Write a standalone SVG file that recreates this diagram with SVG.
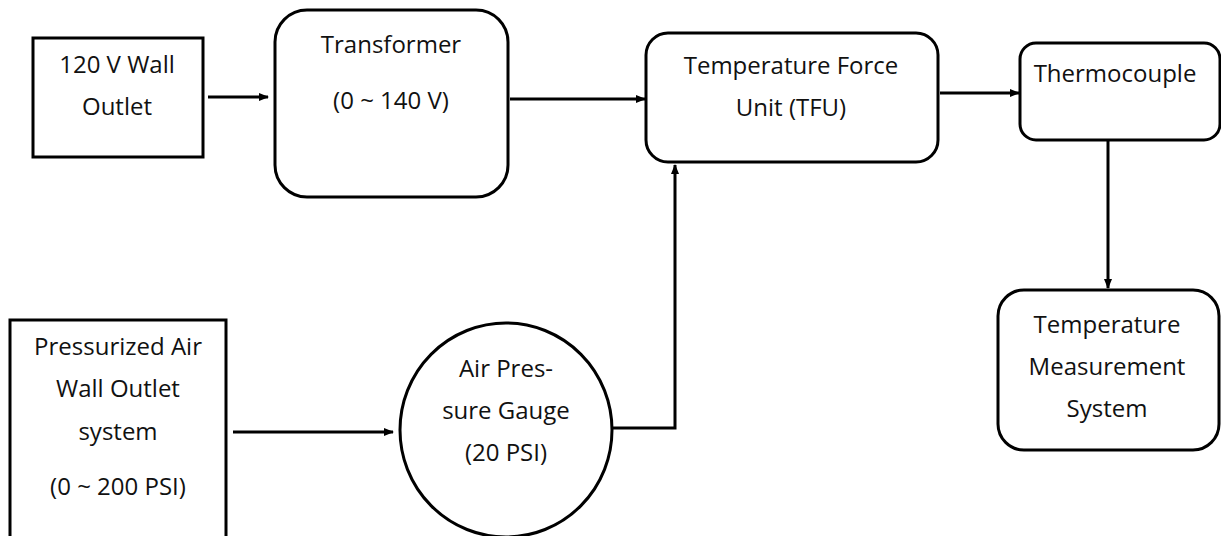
<svg xmlns="http://www.w3.org/2000/svg" width="1221" height="536" viewBox="0 0 1221 536">
<defs>
<marker id="ah" markerWidth="10" markerHeight="8" refX="9" refY="4" orient="auto" markerUnits="userSpaceOnUse">
<path d="M0,0 L10,4 L0,8 Z" fill="#000"/>
</marker>
<style>
.n{fill:#fff;stroke:#000;stroke-width:3}
.t{font-family:"Open Sans","Liberation Sans",sans-serif;font-size:24px;fill:#111;text-anchor:middle}
.c{fill:none;stroke:#000;stroke-width:3}
</style>
</defs>
<rect width="1221" height="536" fill="#fff"/>
<g id="wall-outlet">
<rect class="n" x="33" y="38" width="170" height="119"/>
<text class="t" x="117" y="73">120 V Wall</text>
<text class="t" x="117" y="115">Outlet</text>
</g>
<g id="transformer">
<rect class="n" x="275" y="10" width="233" height="187" rx="32"/>
<text class="t" x="391" y="53">Transformer</text>
<text class="t" x="391" y="109">(0 ~ 140 V)</text>
</g>
<g id="tfu">
<rect class="n" x="646" y="33" width="292" height="129" rx="22"/>
<text class="t" x="791" y="74">Temperature Force</text>
<text class="t" x="791" y="116">Unit (TFU)</text>
</g>
<g id="thermocouple">
<rect class="n" x="1020" y="43" width="200" height="97" rx="16"/>
<text class="t" x="1115" y="82">Thermocouple</text>
</g>
<g id="tms">
<rect class="n" x="998" y="290" width="221" height="160" rx="26"/>
<text class="t" x="1107" y="333">Temperature</text>
<text class="t" x="1107" y="375">Measurement</text>
<text class="t" x="1107" y="417">System</text>
</g>
<g id="air-outlet">
<rect class="n" x="10" y="320" width="216" height="230"/>
<text class="t" x="118" y="355">Pressurized Air</text>
<text class="t" x="118" y="397">Wall Outlet</text>
<text class="t" x="118" y="440">system</text>
<text class="t" x="118" y="495">(0 ~ 200 PSI)</text>
</g>
<g id="gauge">
<ellipse class="n" cx="506" cy="430" rx="106" ry="107"/>
<text class="t" x="506" y="377">Air Pres-</text>
<text class="t" x="506" y="419">sure Gauge</text>
<text class="t" x="506" y="461">(20 PSI)</text>
</g>
<g id="connectors">
<line class="c" x1="208" y1="97" x2="268" y2="97" marker-end="url(#ah)"/>
<line class="c" x1="510" y1="99" x2="645" y2="99" marker-end="url(#ah)"/>
<line class="c" x1="940" y1="93" x2="1019" y2="93" marker-end="url(#ah)"/>
<line class="c" x1="1108" y1="141" x2="1108" y2="288" marker-end="url(#ah)"/>
<line class="c" x1="233" y1="432" x2="393" y2="432" marker-end="url(#ah)"/>
<polyline class="c" points="612,428 675,428 675,165" marker-end="url(#ah)"/>
</g>
</svg>
